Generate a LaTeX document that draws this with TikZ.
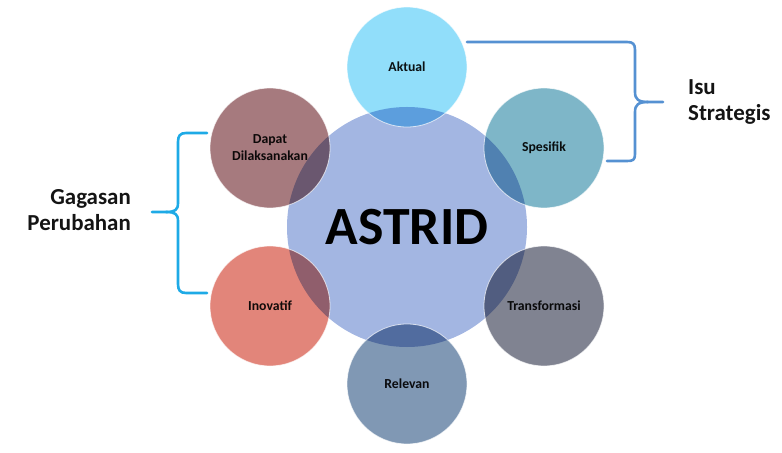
\documentclass[tikz,border=0pt]{standalone}
\usepackage{fontspec}
\setmainfont{Carlito}

\definecolor{astridblue}{RGB}{163,182,226}
\definecolor{aktualcyan}{RGB}{145,222,250}
\definecolor{spesifikteal}{RGB}{126,182,200}
\definecolor{transgray}{RGB}{128,131,145}
\definecolor{relevanblue}{RGB}{128,152,180}
\definecolor{inovatifred}{RGB}{226,133,122}
\definecolor{dapatmauve}{RGB}{166,122,126}
\definecolor{bracesteel}{RGB}{85,145,210}
\definecolor{bracesky}{RGB}{30,170,230}
\definecolor{labelink}{RGB}{20,20,20}

\begin{document}
\begin{tikzpicture}[x=1bp,y=-1bp,
	petal/.style={circle,minimum size=120bp,inner sep=0pt,align=center,
		text=labelink,font=\bfseries\fontsize{13.8}{17}\selectfont},
	brace/.style={line width=2.6bp,line cap=round,line join=round},
	side/.style={inner sep=0pt,text=labelink,font=\bfseries\fontsize{23}{26.5}\selectfont}]
	
	\useasboundingbox (0,0) rectangle (782,453);
	
	% circles, overlaps darken
	\begin{scope}[blend group=multiply]
		\node[circle,minimum size=240bp,inner sep=0pt,fill=astridblue,text=black,
		font=\bfseries\fontsize{54}{60}\selectfont] (astrid) at (407,227) {ASTRID};
		\node[petal,fill=aktualcyan] (aktual) at (407,67) {Aktual};
		\node[petal,fill=spesifikteal] (spesifik) at (544,148) {Spesifik};
		\node[petal,fill=transgray] (transformasi) at (544,306) {Transformasi};
		\node[petal,fill=relevanblue] (relevan) at (407,384) {Relevan};
		\node[petal,fill=inovatifred] (inovatif) at (270,306) {Inovatif};
		\node[petal,fill=dapatmauve] (dapat) at (270,148) {Dapat\\Dilaksanakan};
	\end{scope}
	
	% thin white rims
	\foreach \n in {aktual,spesifik,transformasi,relevan,inovatif,dapat}
	\draw[white,opacity=0.7,line width=0.8bp] (\n.center) circle[radius=60];
	
	% right brace
	\draw[brace,bracesteel] (467,42) -- (627,42) .. controls (633,42) and (635,44) .. (635,50)
	-- (635,92) .. controls (635,99) and (638,102) .. (648,102) -- (663,102);
	\draw[brace,bracesteel] (648,102) .. controls (638,102) and (635,105) .. (635,112)
	-- (635,154) .. controls (635,160) and (633,161) .. (627,161) -- (607,161);
	\node[side,anchor=west,align=left] (isu) at (688,102) {Isu\\Strategis};
	
	% left brace
	\draw[brace,bracesky] (207,133) -- (186,133) .. controls (180,133) and (178,136) .. (178,142)
	-- (178,203) .. controls (178,210) and (175,212) .. (166,212) -- (152,212);
	\draw[brace,bracesky] (166,212) .. controls (175,212) and (178,214) .. (178,221)
	-- (178,284) .. controls (178,290) and (180,293) .. (186,293) -- (207,293);
	\node[side,anchor=east,align=right] (gagasan) at (131,210) {Gagasan\\Perubahan};
	
\end{tikzpicture}
\end{document}
